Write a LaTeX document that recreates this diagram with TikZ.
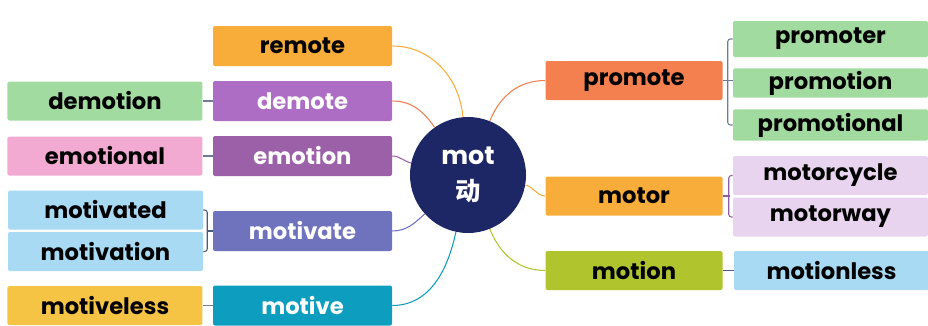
\documentclass[tikz,border=0pt]{standalone}
\usepackage{fontspec}
\setmainfont{Poppins}
\newfontfamily\cjk{Noto Sans CJK SC}
\usepackage{xcolor}
\definecolor{hub-navy}{HTML}{1E2766}
\definecolor{pale-green}{HTML}{A2DBA0}
\definecolor{pale-pink}{HTML}{F2AAD3}
\definecolor{pale-blue}{HTML}{A8DAF4}
\definecolor{pale-gold}{HTML}{F5C445}
\definecolor{pale-lilac}{HTML}{E8D4EE}
\definecolor{orange}{HTML}{F8AD3B}
\definecolor{purple}{HTML}{AD6DC5}
\definecolor{plum}{HTML}{9C60A8}
\definecolor{indigo}{HTML}{6F72BD}
\definecolor{teal}{HTML}{0D9EBF}
\definecolor{coral}{HTML}{F5804F}
\definecolor{lime}{HTML}{AFC42D}
\definecolor{slate}{HTML}{4A5A80}
\definecolor{mauve}{HTML}{8E5CA4}
\usetikzlibrary{positioning}
\tikzset{box/.style = {rounded corners=1.5pt, align=center, text centered, inner sep=0pt, font=\bfseries\fontsize{17}{20}\selectfont}}
\tikzset{root/.style = {box, minimum width=134.25pt, minimum height=30pt}}
\tikzset{stem/.style = {box, minimum width=132.75pt, minimum height=29.25pt}}
\tikzset{leaf/.style = {box, minimum width=146.25pt, minimum height=29.25pt}}
\tikzset{hub/.style = {circle, fill=hub-navy, text=white, minimum size=87pt, align=center, inner sep=0pt, font=\bfseries\fontsize{19}{27}\selectfont}}
\tikzset{branch/.style = {line width=0.8pt}}
\tikzset{tie/.style = {line width=0.8pt, rounded corners=2pt}}

\begin{document}
\begin{tikzpicture}[x=0.75pt, y=-0.75pt]
\useasboundingbox (0,0) rectangle (928,325);

\node[hub] (hub) at (468,175) {mot\\{\cjk 动}};

% left roots
\node[root, fill=orange] (remote) at (302.5,46) {remote};
\node[root, fill=purple, text=white] (demote) at (302.5,101) {demote};
\node[root, fill=plum, text=white] (emotion) at (302.5,156) {emotion};
\node[root, fill=indigo, text=white] (motivate) at (302.5,231) {motivate};
\node[root, fill=teal, text=white] (motive) at (302.5,305.5) {motive};

\node[leaf, fill=pale-green, left=7.5pt of demote] (demotion) {demotion};
\node[leaf, fill=pale-pink, left=7.5pt of emotion] (emotional) {emotional};
\node[leaf, fill=pale-blue] (motivated) at (105.5,210) {motivated};
\node[leaf, fill=pale-blue] (motivation) at (105.5,251.5) {motivation};
\node[leaf, fill=pale-gold, left=7.5pt of motive] (motiveless) {motiveless};

% right stems
\node[stem, fill=coral] (promote) at (634,80.5) {promote};
\node[stem, fill=orange] (motor) at (634,196) {motor};
\node[stem, fill=lime] (motion) at (634,270.5) {motion};

\node[leaf, fill=pale-green, minimum height=27pt] (promoter) at (830.5,39) {promoter};
\node[leaf, fill=pale-green, minimum height=22pt] (promotion) at (830.5,83) {promotion};
\node[leaf, fill=pale-green, minimum height=23.5pt] (promotional) at (830.5,125) {promotional};
\node[leaf, fill=pale-lilac] (motorcycle) at (830.5,175.5) {motorcycle};
\node[leaf, fill=pale-lilac] (motorway) at (830.5,217) {motorway};
\node[leaf, fill=pale-blue, right=8.25pt of motion] (motionless) {motionless};

\draw[branch, draw=orange]  (hub) to[out=95, in=0] (remote.east);
\draw[branch, draw=coral!90!purple]  (hub) to[out=125, in=0] (demote.east);
\draw[branch, draw=plum]  (hub) to[out=168, in=0] (emotion.east);
\draw[branch, draw=indigo]  (hub) to[out=222, in=0] (motivate.east);
\draw[branch, draw=teal]  (hub) to[out=258, in=0] (motive.east);
\draw[branch, draw=coral]  (hub) to[out=68, in=180] (promote.west);
\draw[branch, draw=orange]  (hub) to[out=350, in=180] (motor.west);
\draw[branch, draw=lime]  (hub) to[out=292, in=180] (motion.west);

\draw[tie, draw=slate!80]  (demote) -- (demotion);
\draw[tie, draw=slate!80]  (emotion) -- (emotional);
\draw[tie, draw=slate]  (motivated.east) -- ++(4,0) |- (motivation.east);
\draw[tie, draw=slate]  (motivate.west) -- ++(-6,0);
\draw[tie, draw=slate!80]  (motive) -- (motiveless);
\draw[tie, draw=slate!80]  (promoter.west) -- ++(-5,0) |- (promotional.west);
\draw[tie, draw=slate!80]  (promote.east) -- (promote.east -| promotion.west);
\draw[tie, draw=mauve]  (motorcycle.west) -- ++(-4,0) |- (motorway.west);
\draw[tie, draw=mauve]  (motor.east) -- ++(7,0);
\draw[tie, draw=slate]  (motion) -- (motionless);

\end{tikzpicture}
\end{document}
